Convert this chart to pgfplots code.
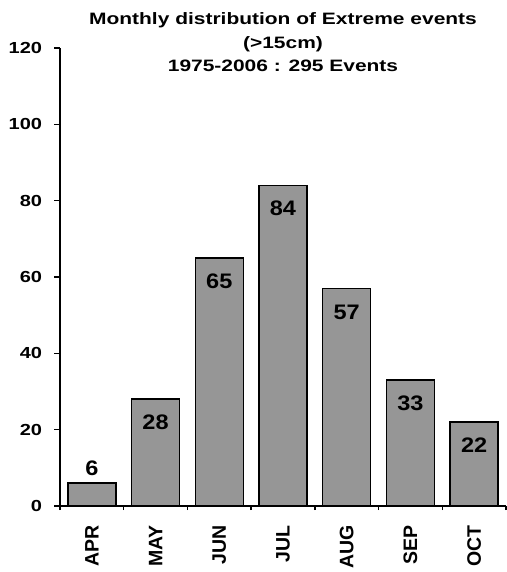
\documentclass[border=0pt]{standalone}
\usepackage{fontspec}
\setmainfont{Liberation Sans}
\usepackage{pgfplots}
\pgfplotsset{compat=1.18}
\definecolor{barfill}{HTML}{969696}
\begin{document}
\begin{tikzpicture}
\begin{axis}[
  at={(0,0)}, anchor=south west,
  scale only axis, width=446pt, height=458pt,
  ybar, bar width=48pt,
  xmin=-0.5, xmax=6.5, ymin=0, ymax=120,
  axis x line*=bottom, axis y line*=left,
  axis line style={line width=1.8pt, black},
  xtick={0,...,6}, xticklabels={APR,MAY,JUN,JUL,AUG,SEP,OCT},
  minor xtick={-0.5,0.5,...,6.5},
  ytick={0,20,...,120},
  tick align=outside,
  major tick length=6pt, minor tick length=4pt,
  tick style={line width=1.5pt, black},
  major x tick style={draw=none},
  /pgf/number format/assume math mode=true,
  y tick label style={anchor=east, inner sep=0pt, xshift=-11.7pt, xscale=1.25, font=\bfseries\fontsize{16}{16}\selectfont},
  xticklabel shift=13pt,
  x tick label style={rotate=90, anchor=east, inner sep=0pt, font=\bfseries\fontsize{19.5}{19.5}\selectfont},
  clip=false,
]
\addplot[bar shift=0pt, fill=barfill, draw=black, line width=1.5pt]
  coordinates {(0,6) (1,28) (2,65) (3,84) (4,57) (5,33) (6,22)};
\addplot[bar shift=0pt, draw=none, fill=none, nodes near coords,
  every node near coord/.append style={inner sep=0pt, yshift=-31pt, xscale=1.12, font=\bfseries\fontsize{21}{21}\selectfont}]
  coordinates {(1,28) (2,65) (3,84) (4,57) (5,33) (6,22)};
\addplot[bar shift=0pt, draw=none, fill=none, nodes near coords,
  every node near coord/.append style={inner sep=0pt, yshift=7pt, xscale=1.12, font=\bfseries\fontsize{21}{21}\selectfont}]
  coordinates {(0,6)};
\end{axis}
\begin{scope}[every node/.style={font=\bfseries\fontsize{16.5}{16.5}\selectfont, anchor=base, inner sep=0pt, xscale=1.27}]
\node at (223pt,481pt) {Monthly distribution of Extreme events};
\node at (223pt,457.5pt) {(>15cm)};
\node at (223pt,434pt) {1975-2006 : 295 Events};
\end{scope}
\pgfresetboundingbox
\path[use as bounding box] (-60pt,-66pt) rectangle (446pt,506pt);
\end{tikzpicture}
\end{document}
